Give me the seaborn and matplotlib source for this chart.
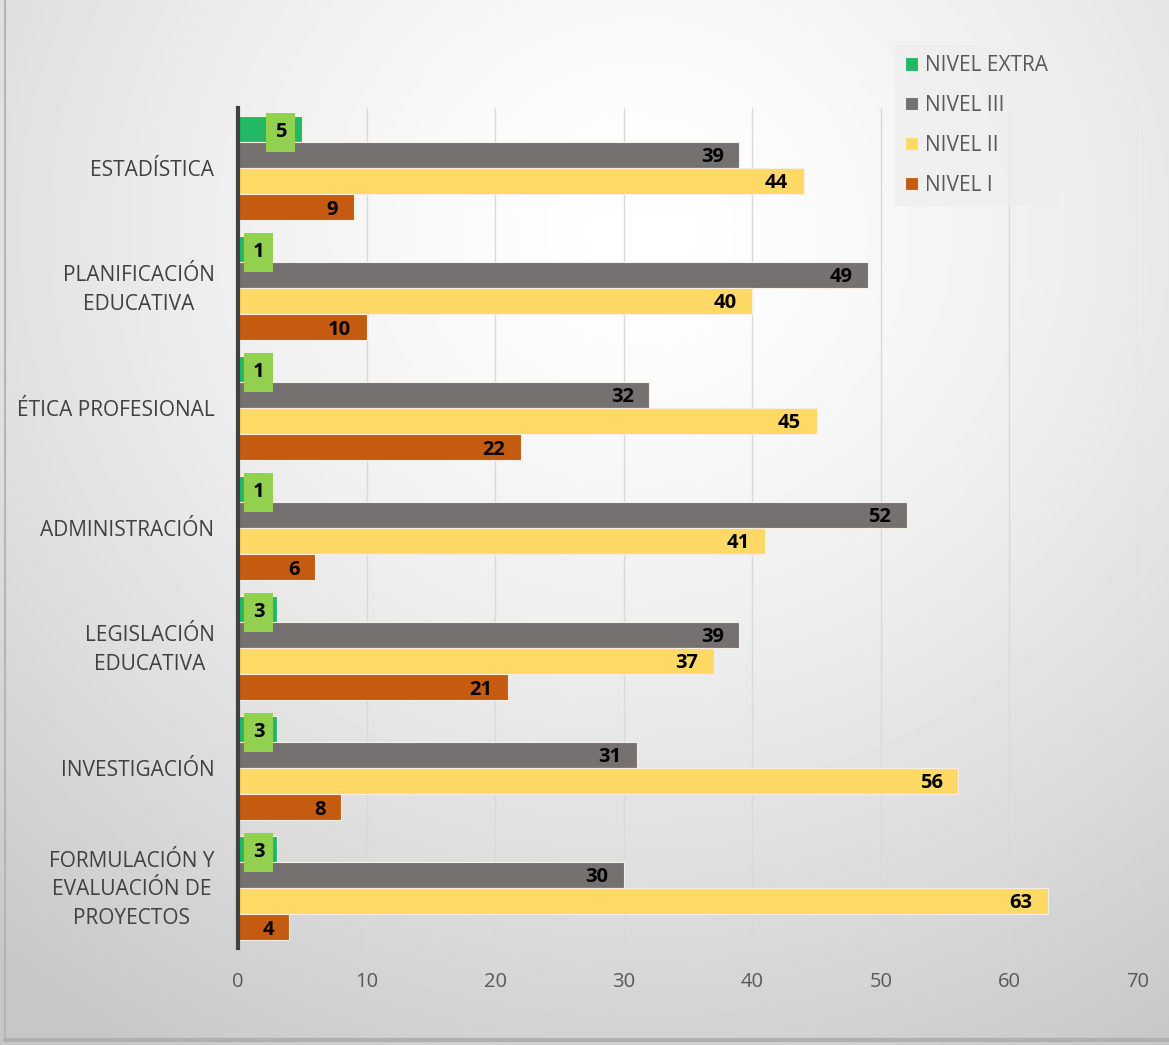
import numpy as np
import pandas as pd
import matplotlib
matplotlib.use("Agg")
import matplotlib.pyplot as plt
import matplotlib.transforms as mtransforms
import seaborn as sns

# --- data -------------------------------------------------------------
materias = [
    "ESTADÍSTICA",
    "PLANIFICACIÓN\nEDUCATIVA",
    "ÉTICA PROFESIONAL",
    "ADMINISTRACIÓN",
    "LEGISLACIÓN\nEDUCATIVA",
    "INVESTIGACIÓN",
    "FORMULACIÓN Y\nEVALUACIÓN DE\nPROYECTOS",
]
niveles = ["NIVEL EXTRA", "NIVEL III", "NIVEL II", "NIVEL I"]
nivel_extra = [5, 1, 1, 1, 3, 3, 3]
nivel_iii = [39, 49, 32, 52, 39, 31, 30]
nivel_ii = [44, 40, 45, 41, 37, 56, 63]
nivel_i = [9, 10, 22, 6, 21, 8, 4]
x_ticks = [0, 10, 20, 30, 40, 50, 60, 70]

colores = ["#23B866", "#767171", "#FFD966", "#C55A11"]

series = [nivel_extra, nivel_iii, nivel_ii, nivel_i]
df = pd.DataFrame(
    [(m, n, v) for n, vals in zip(niveles, series) for m, v in zip(materias, vals)],
    columns=["materia", "nivel", "valor"],
)

# --- style ------------------------------------------------------------
sns.set_theme(style="white")
plt.rcParams["font.family"] = ["Open Sans", "DejaVu Sans"]

W, H = 1169, 1045
fig = plt.figure(figsize=(W / 100, H / 100), dpi=100)

# soft radial background
bg = fig.add_axes([0, 0, 1, 1], zorder=0)
yy, xx = np.mgrid[0:H, 0:W]
d = np.hypot(xx - 640, (yy - 230) * 1.05)
grad = 1.0 - 0.22 * np.clip(d / 1000.0, 0, 1) ** 1.4
bg.imshow(grad, cmap="gray", vmin=0, vmax=1, extent=[0, W, H, 0], aspect="auto",
          interpolation="bilinear")
bg.plot([5, 5], [0, 1040], color="#b5b5b5", lw=1.5)
bg.plot([5, W], [1040, 1040], color="#b0b0b0", lw=3)
bg.set_xlim(0, W)
bg.set_ylim(H, 0)
bg.axis("off")

# --- bars -------------------------------------------------------------
ax = fig.add_axes([238 / W, 1 - 948 / H, 900 / W, 840 / H], zorder=1)
ax.patch.set_alpha(0)

sns.barplot(
    data=df, y="materia", x="valor", hue="nivel",
    order=materias, hue_order=niveles, palette=colores,
    orient="h", width=0.87, saturation=1,
    edgecolor="#f6efe2", linewidth=0.8, ax=ax,
)

ax.set_xlim(0, 70)
ax.set_ylim(6.5, -0.5)
ax.set_xticks(x_ticks)
ax.set_xticklabels([str(t) for t in x_ticks])
ax.set_xlabel("")
ax.set_ylabel("")
ax.grid(axis="x", color="#d9d9d9", lw=1)
ax.grid(axis="y", visible=False)
ax.set_axisbelow(True)
for s in ["top", "right", "bottom"]:
    ax.spines[s].set_visible(False)
ax.spines["left"].set_color("#404040")
ax.spines["left"].set_linewidth(3)
ax.tick_params(axis="x", length=0, pad=17, labelsize=14.5, labelcolor="#595959")
ax.tick_params(axis="y", length=0, pad=17, labelsize=15, labelcolor="#404040")
lift = mtransforms.ScaledTranslation(0, 3 / 72, fig.dpi_scale_trans)
for lbl in ax.get_yticklabels():
    lbl.set_multialignment("center")
    lbl.set_linespacing(1.45)
    if "\n" in lbl.get_text():
        lbl.set_transform(lbl.get_transform() + lift)

# value labels
for cont, nivel in zip(ax.containers, niveles):
    for bar in cont:
        v = bar.get_width()
        yc = bar.get_y() + bar.get_height() / 2
        txt = f"{v:.0f}"
        if nivel == "NIVEL EXTRA":
            ax.text(max(v - 1.7, 1.6), yc + 0.03, txt, ha="center", va="center",
                    fontsize=14.5, fontweight="bold", color="black", zorder=5,
                    bbox=dict(boxstyle="square,pad=0.45", fc="#92D050", ec="none"))
        else:
            ax.text(v - 1.2, yc + 0.02, txt, ha="right", va="center",
                    fontsize=14.5, fontweight="bold", color="black", zorder=5)

# legend
handles, labels = ax.get_legend_handles_labels()
ax.legend(
    handles, labels, loc="upper left",
    bbox_to_anchor=(895 / W, 1 - 45 / H), bbox_transform=fig.transFigure,
    frameon=True, facecolor="#eeeeee", edgecolor="none", framealpha=0.7,
    fancybox=False, fontsize=15, labelcolor="#595959",
    handlelength=0.6, handleheight=0.6, handletextpad=0.35,
    labelspacing=0.9, borderpad=0.5, borderaxespad=0,
)

fig.savefig("out.png", dpi=100)
